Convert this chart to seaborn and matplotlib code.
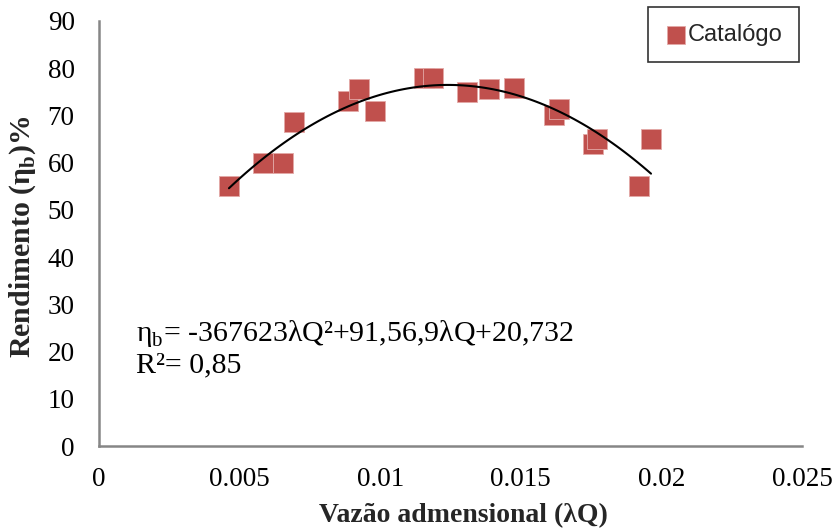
import numpy as np
import pandas as pd
import matplotlib
matplotlib.use("Agg")
import matplotlib.pyplot as plt
import seaborn as sns

# Catalogue points
vazao = [0.00462, 0.00583, 0.00654, 0.00693, 0.00885, 0.00925, 0.00982,
         0.01156, 0.01188, 0.01309, 0.01387, 0.01476, 0.01618, 0.01636,
         0.01757, 0.01771, 0.01920, 0.01963]
rendimento = [55.0, 60.0, 60.0, 68.6, 73.0, 75.5, 71.0,
              78.0, 78.0, 75.0, 75.6, 75.8, 70.0, 71.3,
              64.0, 65.0, 55.0, 65.0]

xticks = [0, 0.005, 0.01, 0.015, 0.02, 0.025]
xtick_labels = ["0", "0.005", "0.01", "0.015", "0.02", "0.025"]
yticks = list(range(0, 100, 10))

df = pd.DataFrame({"vazao": vazao, "rendimento": rendimento})

sns.set_style("white")
plt.rcParams["font.family"] = ["Liberation Serif", "DejaVu Serif"]
plt.rcParams["mathtext.fontset"] = "custom"
plt.rcParams["mathtext.rm"] = "Liberation Serif"
plt.rcParams["mathtext.bf"] = "Liberation Serif:bold"

fig, ax = plt.subplots(figsize=(8.35, 5.31), dpi=100)
fig.subplots_adjust(left=0.1186, right=0.9605, bottom=0.160, top=0.9605)

red = "#C0504D"
sns.scatterplot(data=df, x="vazao", y="rendimento", marker="s", s=220,
                color=red, edgecolor="#E3A9A7", linewidth=0.6, ax=ax,
                label="Catalógo", zorder=3)
# 2nd order polynomial trend line
sns.regplot(data=df, x="vazao", y="rendimento", order=2, scatter=False,
            ci=None, color="black", line_kws={"lw": 1.5, "zorder": 4}, ax=ax)

ax.set_xlim(0, 0.025)
ax.set_ylim(0, 90)
ax.set_xticks(xticks)
ax.set_xticklabels(xtick_labels)
ax.set_yticks(yticks)
ax.tick_params(axis="both", labelsize=19.5, colors="black", length=5,
               width=1.5, color="#868686", direction="out")
ax.tick_params(axis="y", pad=12.5)
ax.tick_params(axis="x", pad=10)

for side in ["top", "right"]:
    ax.spines[side].set_visible(False)
for side in ["left", "bottom"]:
    ax.spines[side].set_color("#868686")
    ax.spines[side].set_linewidth(1.8)

ax.set_xlabel("Vazão admensional (λQ)", fontsize=20, fontweight="bold")
ax.xaxis.set_label_coords(0.519, -0.134)
ax.set_ylabel(r"Rendimento (η$_{\mathbf{b}}$)%", fontsize=21.5, fontweight="bold")
ax.yaxis.set_label_coords(-0.087, 0.492)

ax.text(0.0013, 23.9, r"η$_{\mathrm{b}}$= -367623λQ²+91,56,9λQ+20,732",
        fontsize=21.5, color="black", va="center")
ax.text(0.0013, 17.0, "R²= 0,85", fontsize=21.5, color="black", va="center")

leg = ax.legend(loc="upper right", bbox_to_anchor=(1.006, 1.049), frameon=True,
                fancybox=False, prop={"family": "Liberation Sans", "size": 17},
                handletextpad=0.0, borderpad=0.7, markerscale=0.87,
                handlelength=1.0, borderaxespad=0.3)
leg.get_frame().set_edgecolor("black")
leg.get_frame().set_linewidth(1.2)

plt.savefig("out.png", dpi=100)
